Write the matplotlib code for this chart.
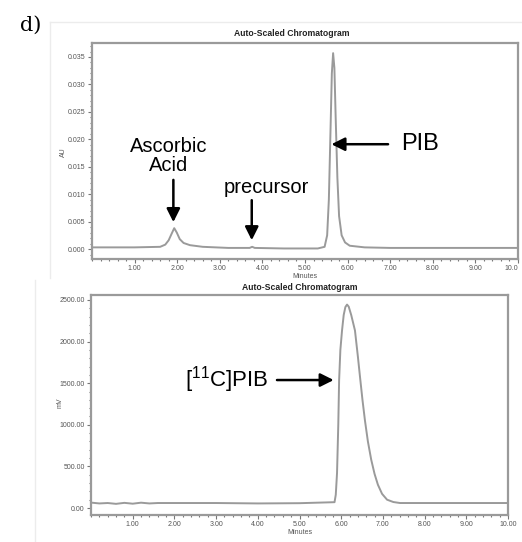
import numpy as np
import matplotlib.pyplot as plt
from matplotlib.lines import Line2D
from matplotlib.ticker import MultipleLocator, FormatStrFormatter

plt.rcParams['font.family'] = ['Liberation Sans', 'DejaVu Sans']
plt.rcParams['mathtext.fontset'] = 'custom'
plt.rcParams['mathtext.rm'] = 'Liberation Sans'
plt.rcParams['mathtext.it'] = 'Liberation Sans'

# top chromatogram (AU vs minutes)
top_t = [0, 1.0, 1.6, 1.72, 1.8, 1.87, 1.93, 1.99, 2.06, 2.15, 2.3, 2.6, 3.2, 3.7, 3.76, 3.82,
         4.5, 5.3, 5.46, 5.52, 5.56, 5.60, 5.63, 5.66, 5.69, 5.72, 5.76, 5.80, 5.86, 5.94, 6.05,
         6.4, 7.0, 10.0]
top_au = [0.0003, 0.0003, 0.0004, 0.0008, 0.0016, 0.0028, 0.0038, 0.0030, 0.0018, 0.0011, 0.0007,
          0.0004, 0.0002, 0.0002, 0.0004, 0.0002, 0.0001, 0.0001, 0.0004, 0.0025, 0.0090, 0.0220,
          0.0320, 0.0357, 0.0330, 0.0240, 0.0130, 0.0060, 0.0025, 0.0012, 0.0006, 0.0003, 0.0002,
          0.0002]
top_xlabels = ['1.00', '2.00', '3.00', '4.00', '5.00', '6.00', '7.00', '8.00', '9.00', '10.0']

# bottom chromatogram (mV vs minutes)
bot_t = [0, 0.2, 0.4, 0.6, 0.8, 1.0, 1.2, 1.4, 1.6, 3.0, 4.0, 5.0, 5.84, 5.87, 5.90, 5.93, 5.95,
         5.98, 6.02, 6.06, 6.10, 6.14, 6.18, 6.24, 6.33, 6.40, 6.45, 6.51, 6.57, 6.64, 6.72, 6.80,
         6.88, 6.98, 7.10, 7.25, 7.41, 10.0]
bot_mv = [65, 55, 60, 50, 62, 52, 64, 55, 60, 60, 55, 58, 70, 160, 420, 1000, 1535,
          1900, 2134, 2320, 2415, 2445, 2420, 2320, 2134, 1820, 1580, 1300, 1050, 800, 580, 410,
          280, 170, 100, 72, 60, 60]

fig = plt.figure(figsize=(5.22, 5.42), dpi=100)
W, H = 522.0, 542.0


def px_axes(l, t, r, b):
    return fig.add_axes([l / W, 1 - b / H, (r - l) / W, (b - t) / H])


def style(ax):
    for s in ax.spines.values():
        s.set_color('#9a9a9a')
        s.set_linewidth(1.6)
    ax.tick_params(which='major', length=3, width=0.8, color='#777777',
                   labelsize=5, labelcolor='#555555', pad=1.5)
    ax.tick_params(which='minor', length=1.6, width=0.8, color='#777777')


# faint frame lines from the original figure scans
fig.add_artist(Line2D([50 / W, 1], [1 - 22 / H, 1 - 22 / H], color='#ececec', lw=1))
fig.add_artist(Line2D([50 / W, 50 / W], [1 - 22 / H, 1 - 278 / H], color='#ececec', lw=1))
fig.add_artist(Line2D([35 / W, 35 / W], [1 - 280 / H, 0], color='#ececec', lw=1))

fig.text(20 / W, 1 - 25 / H, 'd)', fontsize=15, family='DejaVu Serif', va='center')

# ---- top panel
ax1 = px_axes(92, 43, 518, 259)
ax1.plot(top_t, top_au, color='#9a9a9a', lw=1.4)
ax1.set_xlim(0, 10)
ax1.set_ylim(-0.00182, 0.03755)
ax1.set_xticks(np.arange(1, 11))
ax1.set_xticklabels(top_xlabels)
ax1.get_xticklabels()[-1].set_horizontalalignment('right')
ax1.set_yticks(np.arange(0, 0.0351, 0.005))
ax1.yaxis.set_major_formatter(FormatStrFormatter('%.3f'))
ax1.xaxis.set_minor_locator(MultipleLocator(0.2))
ax1.yaxis.set_minor_locator(MultipleLocator(0.001))
style(ax1)
fig.text(292 / W, 1 - 33 / H, 'Auto-Scaled Chromatogram', fontsize=6.2, weight='bold',
         ha='center', va='center', color='#222222')
fig.text(63 / W, 1 - 152 / H, 'AU', fontsize=5, rotation=90, ha='center', va='center',
         color='#555555')
fig.text(305 / W, 1 - 277 / H, 'Minutes', fontsize=5, ha='center', va='center', color='#555555')

arrow = dict(arrowstyle='-|>', lw=1.8, color='black', mutation_scale=20, shrinkA=0, shrinkB=0)
ax1.text(1.80, 0.0170, 'Ascorbic\nAcid', fontsize=14.5, ha='center', va='center', linespacing=1.0)
ax1.annotate('', xy=(1.91, 0.0049), xytext=(1.91, 0.0126), arrowprops=arrow)
ax1.text(4.10, 0.0113, 'precursor', fontsize=14.5, ha='center', va='center')
ax1.annotate('', xy=(3.75, 0.0016), xytext=(3.75, 0.0089), arrowprops=arrow)
ax1.annotate('', xy=(5.62, 0.0191), xytext=(6.95, 0.0191), arrowprops=arrow)
ax1.text(7.25, 0.0191, 'PIB', fontsize=17, ha='left', va='center')

# ---- bottom panel
ax2 = px_axes(91, 295, 508, 515)
ax2.plot(bot_t, bot_mv, color='#9a9a9a', lw=1.4)
ax2.set_xlim(0, 10)
ax2.set_ylim(-84, 2560)
ax2.set_xticks(np.arange(1, 11))
ax2.xaxis.set_major_formatter(FormatStrFormatter('%.2f'))
ax2.set_yticks(np.arange(0, 2501, 500))
ax2.yaxis.set_major_formatter(FormatStrFormatter('%.2f'))
ax2.xaxis.set_minor_locator(MultipleLocator(0.2))
ax2.yaxis.set_minor_locator(MultipleLocator(100))
style(ax2)
fig.text(300 / W, 1 - 287 / H, 'Auto-Scaled Chromatogram', fontsize=6.2, weight='bold',
         ha='center', va='center', color='#222222')
fig.text(60 / W, 1 - 403 / H, 'mV', fontsize=5, rotation=90, ha='center', va='center',
         color='#555555')
fig.text(300 / W, 1 - 533 / H, 'Minutes', fontsize=5, ha='center', va='center', color='#555555')

ax2.text(4.26, 1538, '[$^{11}$C]PIB', fontsize=16, ha='right', va='center')
ax2.annotate('', xy=(5.82, 1538), xytext=(4.46, 1538), arrowprops=arrow)

fig.savefig('out.png', dpi=100)
